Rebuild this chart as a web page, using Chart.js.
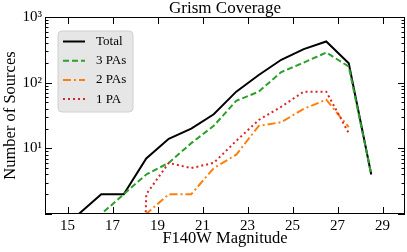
<!DOCTYPE html>
<html><head><meta charset="utf-8">
<script src="https://cdn.jsdelivr.net/npm/chart.js@4/dist/chart.umd.min.js"></script>
<style>html,body{margin:0;padding:0;background:#fff;}#wrap{width:407px;height:252px;}</style>
</head><body><div id="wrap"><canvas id="c" width="407" height="252"></canvas></div>
<script>
// ---- data ----
const magnitudes = [15.5,16.5,17.5,18.5,19.5,20.5,21.5,22.5,23.5,24.5,25.5,26.5,27.5,28.5];
const total   = [1, 2, 2, 7, 14, 20, 33, 73, 131, 223, 324, 424, 198, 4];
const threePA = [0, 1, 2, 4, 6, 12, 22, 53, 73, 145, 202, 288, 176, 4];
const twoPA   = [0, 0, 0, 1, 2, 2, 5, 8, 22, 25, 40, 55, 21, null];
const onePA   = [0, 0, 0, 2, 6, 5, 6, 13, 27, 43, 73, 73, 17, null];
const seriesNames = ['Total', '3 PAs', '2 PAs', '1 PA'];
const xTickValues = [15,17,19,21,23,25,27,29];
const yTickValues = [10,100,1000];
const yTickLabels = ['10\u00B9','10\u00B2','10\u00B3'];
const titleText = 'Grism Coverage';
const xTitle = 'F140W Magnitude';
const yTitle = 'Number of Sources';

const SERIF = '"Liberation Serif", "DejaVu Serif", serif';
// Zero counts on a log axis are clipped far below the axis (like matplotlib)
const CLIP_ZERO = 1e-12;
function pts(vals){ return magnitudes.map((m,i)=>({x:m, y: vals[i]===null ? null : (vals[i]===0 ? CLIP_ZERO : vals[i])})); }

const styles = [
  {color:'#000000', dash:[], width:2},
  {color:'#2ca02c', dash:[6,3], width:2},
  {color:'#ff7f0e', dash:[8,3,2,3], width:2},
  {color:'#d62728', dash:[2,3], width:2}
];
const seriesVals = [total, threePA, twoPA, onePA];

const datasets = seriesVals.map((v,i)=>({
  label: seriesNames[i],
  data: pts(v),
  borderColor: styles[i].color,
  backgroundColor: styles[i].color,
  borderDash: styles[i].dash,
  borderWidth: styles[i].width,
  pointRadius: 0,
  fill: false,
  tension: 0,
  spanGaps: false,
  order: 4 - i
}));

const framePlugin = {
  id: 'frame',
  afterDraw(chart){
    const ctx = chart.ctx, a = chart.chartArea;
    const xs = chart.scales.x, ys = chart.scales.y;
    ctx.save();
    ctx.strokeStyle = '#000'; ctx.lineWidth = 1;
    ctx.strokeRect(a.left+0.5, a.top+0.5, a.right-a.left-1, a.bottom-a.top-1);
    ctx.beginPath();
    // x ticks, inward, bottom and top
    xTickValues.forEach(v=>{
      const px = Math.round(xs.getPixelForValue(v))+0.5;
      ctx.moveTo(px, a.bottom); ctx.lineTo(px, a.bottom-7);
      ctx.moveTo(px, a.top); ctx.lineTo(px, a.top+7);
    });
    // y ticks major/minor, inward, left and right
    for (let d = 1; d < 1000; d *= 10){
      for (let k = 1; k <= 9; k++){
        const v = d*k;
        if (v < ys.min || v > ys.max) continue;
        const py = Math.round(ys.getPixelForValue(v))+0.5;
        const len = (k === 1) ? 7 : 3.5;
        ctx.moveTo(a.left, py); ctx.lineTo(a.left+len, py);
        ctx.moveTo(a.right, py); ctx.lineTo(a.right-len, py);
      }
    }
    ctx.stroke();

    // legend box
    const bx = 58, by = 31, bw = 75, bh = 81, r = 4;
    ctx.beginPath();
    ctx.moveTo(bx+r, by); ctx.lineTo(bx+bw-r, by); ctx.arcTo(bx+bw, by, bx+bw, by+r, r);
    ctx.lineTo(bx+bw, by+bh-r); ctx.arcTo(bx+bw, by+bh, bx+bw-r, by+bh, r);
    ctx.lineTo(bx+r, by+bh); ctx.arcTo(bx, by+bh, bx, by+bh-r, r);
    ctx.lineTo(bx, by+r); ctx.arcTo(bx, by, bx+r, by, r);
    ctx.closePath();
    ctx.fillStyle = 'rgba(229,229,229,0.95)'; ctx.fill();
    ctx.strokeStyle = '#d0d0d0'; ctx.lineWidth = 1; ctx.stroke();
    chart.data.datasets.forEach((ds,i)=>{
      const y = 41.5 + i*19.2;
      ctx.beginPath();
      ctx.setLineDash(ds.borderDash);
      ctx.strokeStyle = ds.borderColor; ctx.lineWidth = ds.borderWidth;
      ctx.moveTo(63, y); ctx.lineTo(85, y); ctx.stroke();
      ctx.setLineDash([]);
      ctx.fillStyle = '#000';
      ctx.font = '13px ' + SERIF;
      ctx.textBaseline = 'middle'; ctx.textAlign = 'left';
      ctx.fillText(ds.label, 96, y);
    });
    ctx.restore();
  }
};

new Chart(document.getElementById('c'), {
  type: 'line',
  data: { datasets },
  plugins: [framePlugin],
  options: {
    responsive: false,
    animation: false,
    devicePixelRatio: 1,
    layout: { padding: { left: 0, right: 2, top: 0, bottom: 0 } },
    plugins: {
      legend: { display: false },
      tooltip: { enabled: false },
      title: {
        display: true, text: titleText, fullSize: false, color: '#000',
        font: { family: SERIF, size: 17, weight: 'normal', lineHeight: 1 },
        padding: { top: 0, bottom: 0 }
      }
    },
    scales: {
      x: {
        type: 'linear', min: 14, max: 30,
        afterBuildTicks: s => { s.ticks = xTickValues.map(v=>({value:v})); },
        afterFit: s => { s.height = 38; },
        grid: { display: false, drawTicks: false },
        border: { display: false },
        ticks: { color: '#000', padding: 3, font: { family: SERIF, size: 15 }, maxRotation: 0,
                 callback: v => String(v) },
        title: { display: true, text: xTitle, color: '#000', padding: { top: 0, bottom: 5 },
                 font: { family: SERIF, size: 16.5, lineHeight: 1 } }
      },
      y: {
        type: 'logarithmic', min: 1, max: 1000,
        afterBuildTicks: s => { s.ticks = yTickValues.map(v=>({value:v})); },
        afterFit: s => { s.width = 45; },
        grid: { display: false, drawTicks: false },
        border: { display: false },
        ticks: { color: '#000', padding: 3, font: { family: SERIF, size: 15 },
                 callback: v => { const i = yTickValues.indexOf(v); return i >= 0 ? yTickLabels[i] : ''; } },
        title: { display: true, text: yTitle, color: '#000', padding: { top: 2, bottom: 0 },
                 font: { family: SERIF, size: 16.5, lineHeight: 1 } }
      }
    }
  }
});
</script>
</body></html>
